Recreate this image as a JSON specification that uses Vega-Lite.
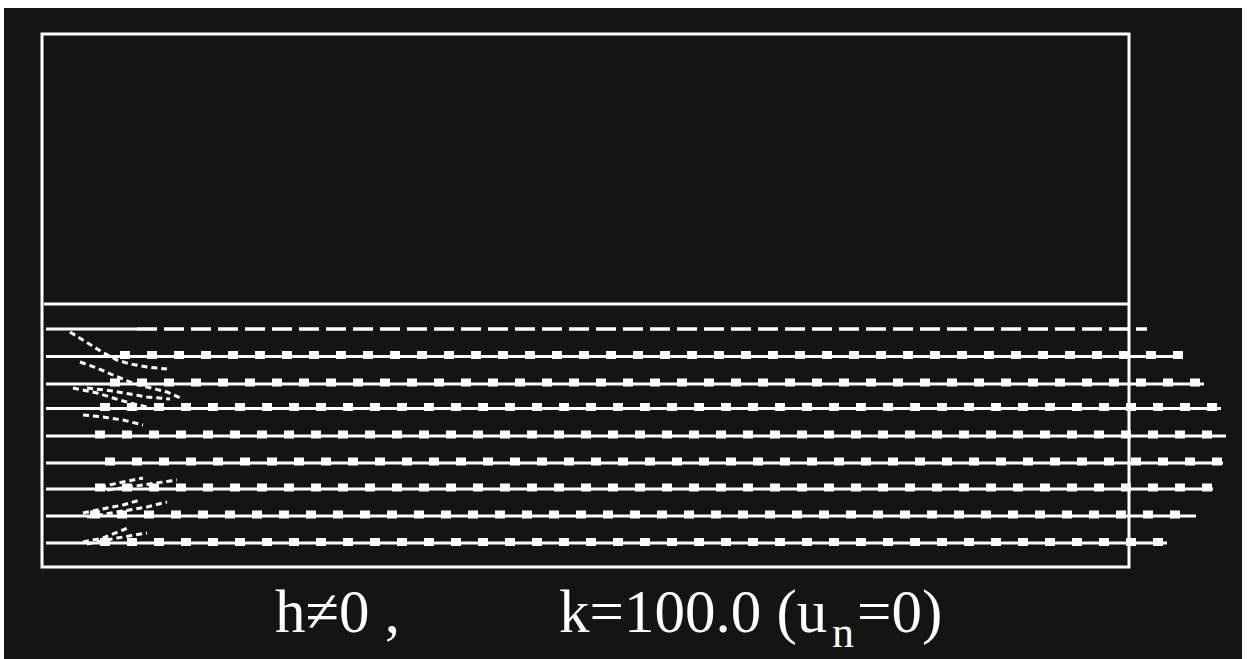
{
  "$schema": "https://vega.github.io/schema/vega-lite/v6.json",
  "width": 1247,
  "height": 659,
  "autosize": {"type": "fit", "contains": "padding"},
  "padding": {"left": 4, "top": 8, "right": 5, "bottom": 0},
  "background": "#ffffff",
  "config": {"view": {"fill": "#141414", "stroke": null}},
  "datasets": {
    "box": [{"x": 42, "x2": 1129, "y": 34, "y2": 567}],
    "solid": [
      {"id": "top", "x": 44, "y": 304}, {"id": "top", "x": 1129, "y": 304},
      {"id": "s1", "x": 46, "y": 329}, {"id": "s1", "x": 137, "y": 329},
      {"id": "s2", "x": 46, "y": 356.5}, {"id": "s2", "x": 1183, "y": 356.5},
      {"id": "s3", "x": 46, "y": 384}, {"id": "s3", "x": 1204, "y": 384},
      {"id": "s4", "x": 46, "y": 408.5}, {"id": "s4", "x": 1221, "y": 408.5},
      {"id": "s5", "x": 46, "y": 436}, {"id": "s5", "x": 1226, "y": 436},
      {"id": "s6", "x": 46, "y": 463}, {"id": "s6", "x": 1223, "y": 463},
      {"id": "s7", "x": 46, "y": 489}, {"id": "s7", "x": 1213, "y": 489},
      {"id": "s8", "x": 46, "y": 516}, {"id": "s8", "x": 1196, "y": 516},
      {"id": "s9", "x": 46, "y": 543}, {"id": "s9", "x": 1167, "y": 543}
    ],
    "blob": [
      {"id": "s2", "x": 120, "y": 355}, {"id": "s2", "x": 1183, "y": 355},
      {"id": "s3", "x": 110, "y": 382.5}, {"id": "s3", "x": 1204, "y": 382.5},
      {"id": "s4", "x": 100, "y": 407}, {"id": "s4", "x": 1221, "y": 407},
      {"id": "s5", "x": 95, "y": 434.5}, {"id": "s5", "x": 1226, "y": 434.5},
      {"id": "s6", "x": 105, "y": 461.5}, {"id": "s6", "x": 1223, "y": 461.5},
      {"id": "s7", "x": 95, "y": 487.5}, {"id": "s7", "x": 1213, "y": 487.5},
      {"id": "s8", "x": 90, "y": 514.5}, {"id": "s8", "x": 1196, "y": 514.5},
      {"id": "s9", "x": 100, "y": 542}, {"id": "s9", "x": 1167, "y": 542}
    ],
    "dash": [{"id": "d", "x": 137, "y": 329}, {"id": "d", "x": 1147, "y": 329}],
    "traj": [
      {"id": "a", "i": 1, "x": 70, "y": 332}, {"id": "a", "i": 2, "x": 83, "y": 340}, {"id": "a", "i": 3, "x": 102, "y": 352}, {"id": "a", "i": 4, "x": 117, "y": 360}, {"id": "a", "i": 5, "x": 130, "y": 364}, {"id": "a", "i": 6, "x": 147, "y": 367}, {"id": "a", "i": 7, "x": 167, "y": 369},
      {"id": "b", "i": 1, "x": 80, "y": 362}, {"id": "b", "i": 2, "x": 97, "y": 368}, {"id": "b", "i": 3, "x": 113, "y": 375}, {"id": "b", "i": 4, "x": 130, "y": 382}, {"id": "b", "i": 5, "x": 147, "y": 387}, {"id": "b", "i": 6, "x": 167, "y": 392}, {"id": "b", "i": 7, "x": 183, "y": 399},
      {"id": "c", "i": 1, "x": 73, "y": 388}, {"id": "c", "i": 2, "x": 97, "y": 393}, {"id": "c", "i": 3, "x": 113, "y": 398}, {"id": "c", "i": 4, "x": 130, "y": 403}, {"id": "c", "i": 5, "x": 147, "y": 407},
      {"id": "e", "i": 1, "x": 87, "y": 388}, {"id": "e", "i": 2, "x": 113, "y": 391}, {"id": "e", "i": 3, "x": 130, "y": 394}, {"id": "e", "i": 4, "x": 147, "y": 397}, {"id": "e", "i": 5, "x": 170, "y": 399},
      {"id": "f", "i": 1, "x": 83, "y": 415}, {"id": "f", "i": 2, "x": 103, "y": 417}, {"id": "f", "i": 3, "x": 123, "y": 420}, {"id": "f", "i": 4, "x": 143, "y": 425},
      {"id": "g", "i": 1, "x": 83, "y": 542}, {"id": "g", "i": 2, "x": 103, "y": 538}, {"id": "g", "i": 3, "x": 123, "y": 530}, {"id": "g", "i": 4, "x": 130, "y": 527},
      {"id": "h", "i": 1, "x": 87, "y": 544}, {"id": "h", "i": 2, "x": 117, "y": 538}, {"id": "h", "i": 3, "x": 147, "y": 533},
      {"id": "j", "i": 1, "x": 83, "y": 513}, {"id": "j", "i": 2, "x": 107, "y": 508}, {"id": "j", "i": 3, "x": 123, "y": 505}, {"id": "j", "i": 4, "x": 140, "y": 500},
      {"id": "k", "i": 1, "x": 87, "y": 517}, {"id": "k", "i": 2, "x": 117, "y": 512}, {"id": "k", "i": 3, "x": 147, "y": 507}, {"id": "k", "i": 4, "x": 167, "y": 502},
      {"id": "m", "i": 1, "x": 100, "y": 487}, {"id": "m", "i": 2, "x": 123, "y": 482}, {"id": "m", "i": 3, "x": 143, "y": 478},
      {"id": "n", "i": 1, "x": 107, "y": 490}, {"id": "n", "i": 2, "x": 143, "y": 485}, {"id": "n", "i": 3, "x": 177, "y": 480}
    ],
    "main": [
      {"label": "h≠0 ,", "x": 275, "y": 632},
      {"label": "k=100.0 (u", "x": 559, "y": 632},
      {"label": "=0)", "x": 857, "y": 632}
    ],
    "sub": [{"label": "n", "x": 832, "y": 647}]
  },
  "layer": [
    {
      "data": {"name": "box"},
      "mark": {"type": "rect", "fill": "transparent", "stroke": "#ffffff", "strokeWidth": 3},
      "encoding": {
        "x": {"field": "x", "type": "quantitative", "scale": {"domain": [4, 1242], "nice": false, "zero": false}, "axis": null},
        "x2": {"field": "x2"},
        "y": {"field": "y", "type": "quantitative", "scale": {"domain": [8, 659], "nice": false, "zero": false, "reverse": true}, "axis": null},
        "y2": {"field": "y2"}
      }
    },
    {
      "data": {"name": "solid"},
      "mark": {"type": "line", "color": "#ffffff", "strokeWidth": 3},
      "encoding": {
        "x": {"field": "x", "type": "quantitative", "axis": null},
        "y": {"field": "y", "type": "quantitative", "axis": null},
        "detail": {"field": "id"}
      }
    },
    {
      "data": {"name": "blob"},
      "mark": {"type": "line", "color": "#ffffff", "strokeWidth": 8, "strokeDash": [10, 17], "strokeCap": "butt"},
      "encoding": {
        "x": {"field": "x", "type": "quantitative", "axis": null},
        "y": {"field": "y", "type": "quantitative", "axis": null},
        "detail": {"field": "id"}
      }
    },
    {
      "data": {"name": "dash"},
      "mark": {"type": "line", "color": "#ffffff", "strokeWidth": 3.5, "strokeDash": [20, 7]},
      "encoding": {
        "x": {"field": "x", "type": "quantitative", "axis": null},
        "y": {"field": "y", "type": "quantitative", "axis": null},
        "detail": {"field": "id"}
      }
    },
    {
      "data": {"name": "traj"},
      "mark": {"type": "line", "color": "#ffffff", "strokeWidth": 3, "strokeDash": [6, 4]},
      "encoding": {
        "x": {"field": "x", "type": "quantitative", "axis": null},
        "y": {"field": "y", "type": "quantitative", "axis": null},
        "detail": {"field": "id"},
        "order": {"field": "i", "type": "quantitative"}
      }
    },
    {
      "data": {"name": "main"},
      "mark": {"type": "text", "color": "#ffffff", "font": "Liberation Serif", "fontSize": 61, "align": "left", "baseline": "alphabetic"},
      "encoding": {
        "x": {"field": "x", "type": "quantitative", "axis": null},
        "y": {"field": "y", "type": "quantitative", "axis": null},
        "text": {"field": "label"}
      }
    },
    {
      "data": {"name": "sub"},
      "mark": {"type": "text", "color": "#ffffff", "font": "Liberation Serif", "fontSize": 44, "align": "left", "baseline": "alphabetic"},
      "encoding": {
        "x": {"field": "x", "type": "quantitative", "axis": null},
        "y": {"field": "y", "type": "quantitative", "axis": null},
        "text": {"field": "label"}
      }
    }
  ]
}
